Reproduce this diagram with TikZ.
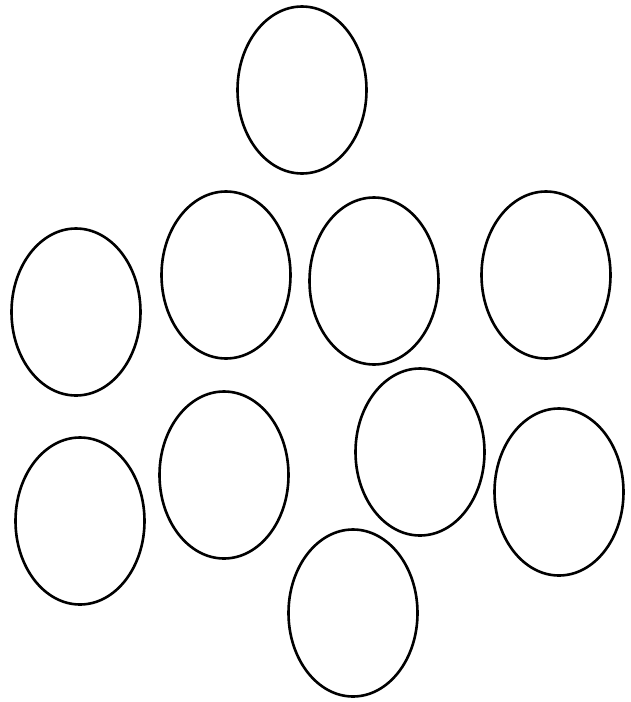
\documentclass[tikz,border=0pt]{standalone}
\usetikzlibrary{shapes.geometric}
\begin{document}
\begin{tikzpicture}[x=1pt,y=-1pt,
  oval/.style={ellipse,draw=black,line width=2.6pt,inner sep=0pt,minimum width=129pt,minimum height=167pt}]
\useasboundingbox (0,0) rectangle (630,702);
\node[oval] (e1) at (302,90) {};
\node[oval] (e2) at (226,275) {};
\node[oval] (e3) at (374,281) {};
\node[oval] (e4) at (546,275) {};
\node[oval] (e5) at (76,312) {};
\node[oval] (e6) at (224,475) {};
\node[oval] (e7) at (420,452) {};
\node[oval] (e8) at (80,521) {};
\node[oval] (e9) at (559,492) {};
\node[oval] (e10) at (353,613) {};
\end{tikzpicture}
\end{document}
